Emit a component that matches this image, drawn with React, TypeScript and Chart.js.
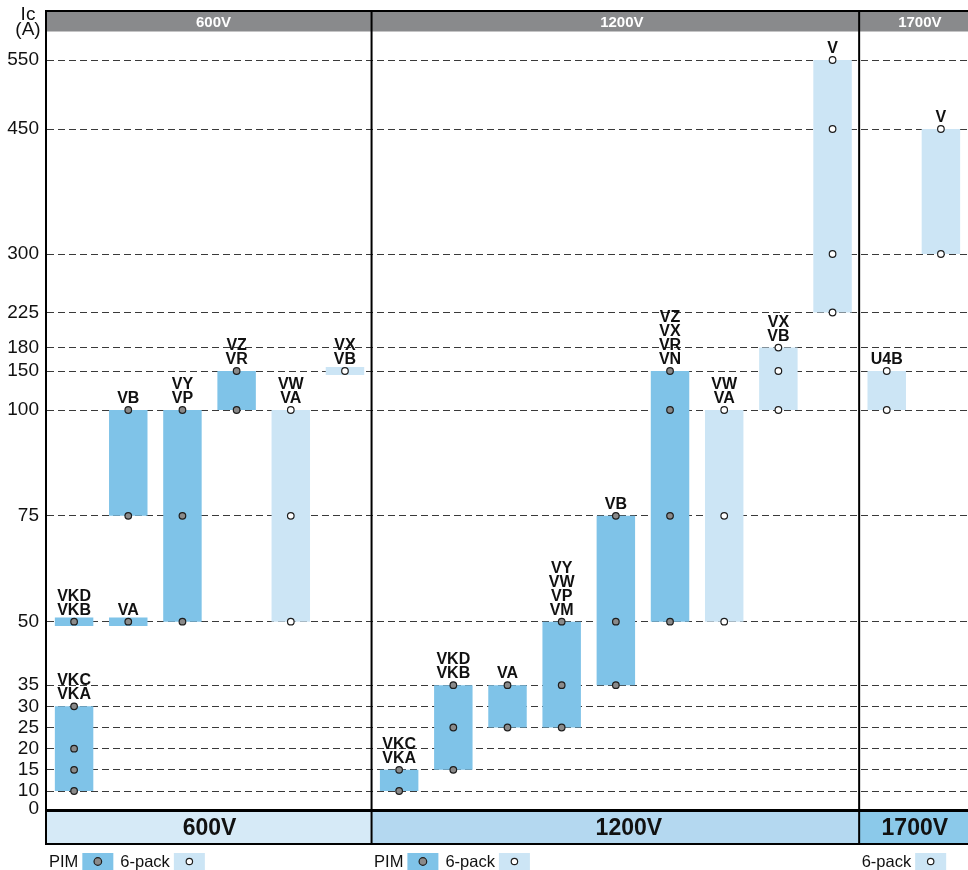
import { useEffect, useRef } from 'react';
import { Chart, registerables, LinearScale } from 'chart.js';

Chart.register(...registerables);

// ---------------- data ----------------
const GROUP_NAMES = ['600V', '1200V', '1700V'];
const GROUP_SIZES = [6, 9, 2];
const GROUP_LEGENDS = [['PIM', '6-pack'], ['PIM', '6-pack'], ['6-pack']];

const COLUMNS = [
  '600V-1', '600V-2', '600V-3', '600V-4', '600V-5', '600V-6',
  '1200V-1', '1200V-2', '1200V-3', '1200V-4', '1200V-5', '1200V-6', '1200V-7', '1200V-8', '1200V-9',
  '1700V-1', '1700V-2',
];

const Y_TICKS = [0, 10, 15, 20, 25, 30, 35, 50, 75, 100, 150, 180, 225, 300, 450, 550];

// broken (piecewise) axis: values and their relative spacing
const AXIS_BREAK_VALUES = [0, 10, 100, 300, 450, 550, 620];
const AXIS_BREAK_UNITS = [0, 18, 399, 555, 680, 749, 797];

type BarRec = { col: string; range: [number, number]; names: string[]; dots: number[] };

const PIM_BARS: BarRec[] = [
  { col: '600V-1', range: [10, 30], names: ['VKC', 'VKA'], dots: [10, 15, 20, 30] },
  { col: '600V-1', range: [49, 51], names: ['VKD', 'VKB'], dots: [50] },
  { col: '600V-2', range: [75, 100], names: ['VB'], dots: [75, 100] },
  { col: '600V-2', range: [49, 51], names: ['VA'], dots: [50] },
  { col: '600V-3', range: [50, 100], names: ['VY', 'VP'], dots: [50, 75, 100] },
  { col: '600V-4', range: [100, 150], names: ['VZ', 'VR'], dots: [100, 150] },
  { col: '1200V-1', range: [10, 15], names: ['VKC', 'VKA'], dots: [10, 15] },
  { col: '1200V-2', range: [15, 35], names: ['VKD', 'VKB'], dots: [15, 25, 35] },
  { col: '1200V-3', range: [25, 35], names: ['VA'], dots: [25, 35] },
  { col: '1200V-4', range: [25, 50], names: ['VY', 'VW', 'VP', 'VM'], dots: [25, 35, 50] },
  { col: '1200V-5', range: [35, 75], names: ['VB'], dots: [35, 50, 75] },
  { col: '1200V-6', range: [50, 150], names: ['VZ', 'VX', 'VR', 'VN'], dots: [50, 75, 100, 150] },
];

const SIXPACK_BARS: BarRec[] = [
  { col: '600V-5', range: [50, 100], names: ['VW', 'VA'], dots: [50, 75, 100] },
  { col: '600V-6', range: [145, 155], names: ['VX', 'VB'], dots: [150] },
  { col: '1200V-7', range: [50, 100], names: ['VW', 'VA'], dots: [50, 75, 100] },
  { col: '1200V-8', range: [100, 180], names: ['VX', 'VB'], dots: [100, 150, 180] },
  { col: '1200V-9', range: [225, 550], names: ['V'], dots: [225, 300, 450, 550] },
  { col: '1700V-1', range: [100, 150], names: ['U4B'], dots: [100, 150] },
  { col: '1700V-2', range: [300, 450], names: ['V'], dots: [300, 450] },
];

// ---------------- styles ----------------
const FONT = '"Liberation Sans", Arial, Helvetica, sans-serif';
const PIM_COLOR = '#7fc3e8';
const SIX_COLOR = '#cce5f5';
const PIM_DOT = '#8a8a8a';
const DOT_BORDER = '#1e1e1e';
const HEADER_COLOR = '#898a8c';
const BAND_COLORS = ['#d6eaf7', '#b4d8f0', '#8bc9ea'];
const HEADER_TEXT_SHIFT = [4, 6, 6];
const BAND_TEXT_SHIFT = [0, 13, 1];

// ---------------- piecewise scale ----------------
function interp(v: number, from: number[], to: number[]) {
  const n = from.length - 1;
  let i = 1;
  while (i < n && v > from[i]) i++;
  const a = from[i - 1], b = from[i];
  return to[i - 1] + ((v - a) * (to[i] - to[i - 1])) / (b - a);
}
const UNITS_MAX = AXIS_BREAK_UNITS[AXIS_BREAK_UNITS.length - 1];

class BrokenLinearScale extends LinearScale {
  static id = 'brokenLinear';
  getPixelForValue(value: any) {
    if (value === null || value === undefined || Number.isNaN(value)) return NaN;
    return this.getPixelForDecimal(interp(value, AXIS_BREAK_VALUES, AXIS_BREAK_UNITS) / UNITS_MAX);
  }
  getValueForPixel(pixel: number) {
    return interp(this.getDecimalForPixel(pixel) * UNITS_MAX, AXIS_BREAK_UNITS, AXIS_BREAK_VALUES);
  }
}
Chart.register(BrokenLinearScale as any);

// ---------------- decorations ----------------
function drawDot(ctx: CanvasRenderingContext2D, x: number, y: number, r: number, fill: string) {
  ctx.beginPath();
  ctx.arc(x, y, r, 0, Math.PI * 2);
  ctx.fillStyle = fill;
  ctx.fill();
  ctx.lineWidth = 1.2;
  ctx.strokeStyle = DOT_BORDER;
  ctx.stroke();
}

const decorPlugin = {
  id: 'decor',
  afterDraw(chart: any) {
    const { ctx, chartArea: ca } = chart;
    const xs = chart.scales.x;
    const ys = chart.scales.y;
    const step = xs.getPixelForValue(1) - xs.getPixelForValue(0);
    const y0 = ys.getPixelForValue(0);
    const frameLeft = ca.left - 2;
    const bandTop = y0 + 3;
    const bandBottom = y0 + 34;
    const groups: any[] = [];
    let start = 0;
    GROUP_SIZES.forEach((n, i) => {
      const l = xs.getPixelForValue(start) - step / 2;
      const r = xs.getPixelForValue(start + n - 1) + step / 2;
      groups.push({ l, r, name: GROUP_NAMES[i], legend: GROUP_LEGENDS[i] });
      start += n;
    });

    ctx.save();
    // header band
    ctx.fillStyle = HEADER_COLOR;
    ctx.fillRect(ca.left, ca.top, ca.right - ca.left, 19.5);
    ctx.fillStyle = '#000';
    ctx.fillRect(frameLeft, ca.top - 2, ca.right - frameLeft, 2);
    // zero line
    ctx.fillRect(frameLeft, y0, ca.right - frameLeft, 3);
    // bottom band cells
    groups.forEach((g, i) => {
      ctx.fillStyle = BAND_COLORS[i];
      ctx.fillRect(g.l, bandTop, g.r - g.l, bandBottom - bandTop);
    });
    ctx.fillStyle = '#000';
    ctx.fillRect(frameLeft, bandBottom, ca.right - frameLeft, 2);
    // left frame line and group separators
    const vTop = ca.top - 2;
    const vH = bandBottom + 2 - vTop;
    ctx.fillRect(frameLeft, vTop, 2, vH);
    groups.slice(1).forEach((g) => ctx.fillRect(g.l - 1.5, vTop, 2, vH));

    // header texts
    ctx.textAlign = 'center';
    ctx.textBaseline = 'alphabetic';
    ctx.font = `bold 15px ${FONT}`;
    ctx.fillStyle = '#fff';
    groups.forEach((g, i) => ctx.fillText(g.name, (g.l + g.r) / 2 + HEADER_TEXT_SHIFT[i], ca.top + 14.5));
    // band texts
    ctx.font = `bold 23px ${FONT}`;
    ctx.fillStyle = '#111';
    groups.forEach((g, i) => ctx.fillText(g.name, (g.l + g.r) / 2 + BAND_TEXT_SHIFT[i], bandTop + 23));

    // legends
    ctx.font = `16.5px ${FONT}`;
    ctx.textAlign = 'left';
    groups.forEach((g) => {
      let x = g.l + 2;
      g.legend.forEach((name: string) => {
        ctx.fillStyle = '#111';
        ctx.fillText(name, x, 867);
        x += ctx.measureText(name).width + 4;
        const isPim = name === 'PIM';
        ctx.fillStyle = isPim ? PIM_COLOR : SIX_COLOR;
        ctx.fillRect(x, 853, 31, 17);
        drawDot(ctx, x + 15.5, 861.5, isPim ? 3.8 : 3.2, isPim ? PIM_DOT : '#fff');
        x += 31 + 7;
      });
    });

    // bar name labels
    ctx.font = `bold 16px ${FONT}`;
    ctx.fillStyle = '#111';
    ctx.textAlign = 'center';
    [...PIM_BARS, ...SIXPACK_BARS].forEach((b) => {
      const x = xs.getPixelForValue(b.col);
      const anchor = ys.getPixelForValue(Math.max(...b.dots));
      const n = b.names.length;
      b.names.forEach((name, i) => {
        ctx.fillText(name, x, anchor - 7 - (n - 1 - i) * 14);
      });
    });

    // axis title
    ctx.font = `19px ${FONT}`;
    ctx.fillStyle = '#111';
    ctx.fillText('Ic', 28, 19.6);
    ctx.fillText('(A)', 28, 35);
    ctx.restore();
  },
};

export default function App() {
  const ref = useRef<HTMLCanvasElement | null>(null);
  useEffect(() => {
    if (!ref.current) return;
    const dots = (bars: BarRec[]) => bars.flatMap((b) => b.dots.map((v) => ({ x: b.col, y: v })));
    const barData = (bars: BarRec[]) => bars.map((b) => ({ x: b.col, y: b.range }));
    const pointStyle = {
      type: 'line' as const,
      showLine: false,
      pointRadius: 3.3,
      pointHoverRadius: 3.3,
      pointBorderWidth: 1.2,
      pointBorderColor: DOT_BORDER,
      order: 0,
    };
    const barStyle = {
      type: 'bar' as const,
      grouped: false,
      barPercentage: 0.71,
      categoryPercentage: 1,
      borderWidth: 0,
      order: 1,
    };
    const chart = new Chart(ref.current, {
      type: 'bar',
      data: {
        labels: COLUMNS,
        datasets: [
          { ...pointStyle, label: 'PIM points', data: dots(PIM_BARS), pointBackgroundColor: PIM_DOT },
          { ...pointStyle, label: '6-pack points', data: dots(SIXPACK_BARS), pointBackgroundColor: '#ffffff' },
          { ...barStyle, label: 'PIM', data: barData(PIM_BARS), backgroundColor: PIM_COLOR },
          { ...barStyle, label: '6-pack', data: barData(SIXPACK_BARS), backgroundColor: SIX_COLOR },
        ] as any,
      },
      options: {
        responsive: false,
        animation: false,
        events: [],
        layout: { autoPadding: false, padding: { top: 12, bottom: 61, left: 0, right: 0 } },
        plugins: { legend: { display: false }, tooltip: { enabled: false } },
        scales: {
          x: { type: 'category', labels: COLUMNS, offset: true, display: false, grid: { display: false } },
          y: {
            type: 'brokenLinear' as any,
            min: 0,
            max: AXIS_BREAK_VALUES[AXIS_BREAK_VALUES.length - 1],
            afterBuildTicks: (axis: any) => {
              axis.ticks = Y_TICKS.map((v) => ({ value: v }));
            },
            afterFit: (axis: any) => {
              axis.width = 47;
              axis.paddingTop = 0;
              axis.paddingBottom = 0;
            },
            ticks: {
              autoSkip: false,
              padding: 8,
              color: '#111',
              font: { family: FONT, size: 19 },
              callback: (v: any) => String(v),
            },
            grid: {
              drawTicks: false,
              lineWidth: 1,
              color: (c: any) => (c.tick && c.tick.value === 0 ? 'rgba(0,0,0,0)' : '#3a3a3a'),
            },
            border: { display: false, dash: [7, 4] },
          } as any,
        },
      },
      plugins: [decorPlugin],
    });
    return () => chart.destroy();
  }, []);
  return (
    <canvas
      ref={ref}
      width={968}
      height={870}
      style={{ position: 'absolute', left: 0, top: 0, display: 'block', width: 968, height: 870 }}
    />
  );
}
